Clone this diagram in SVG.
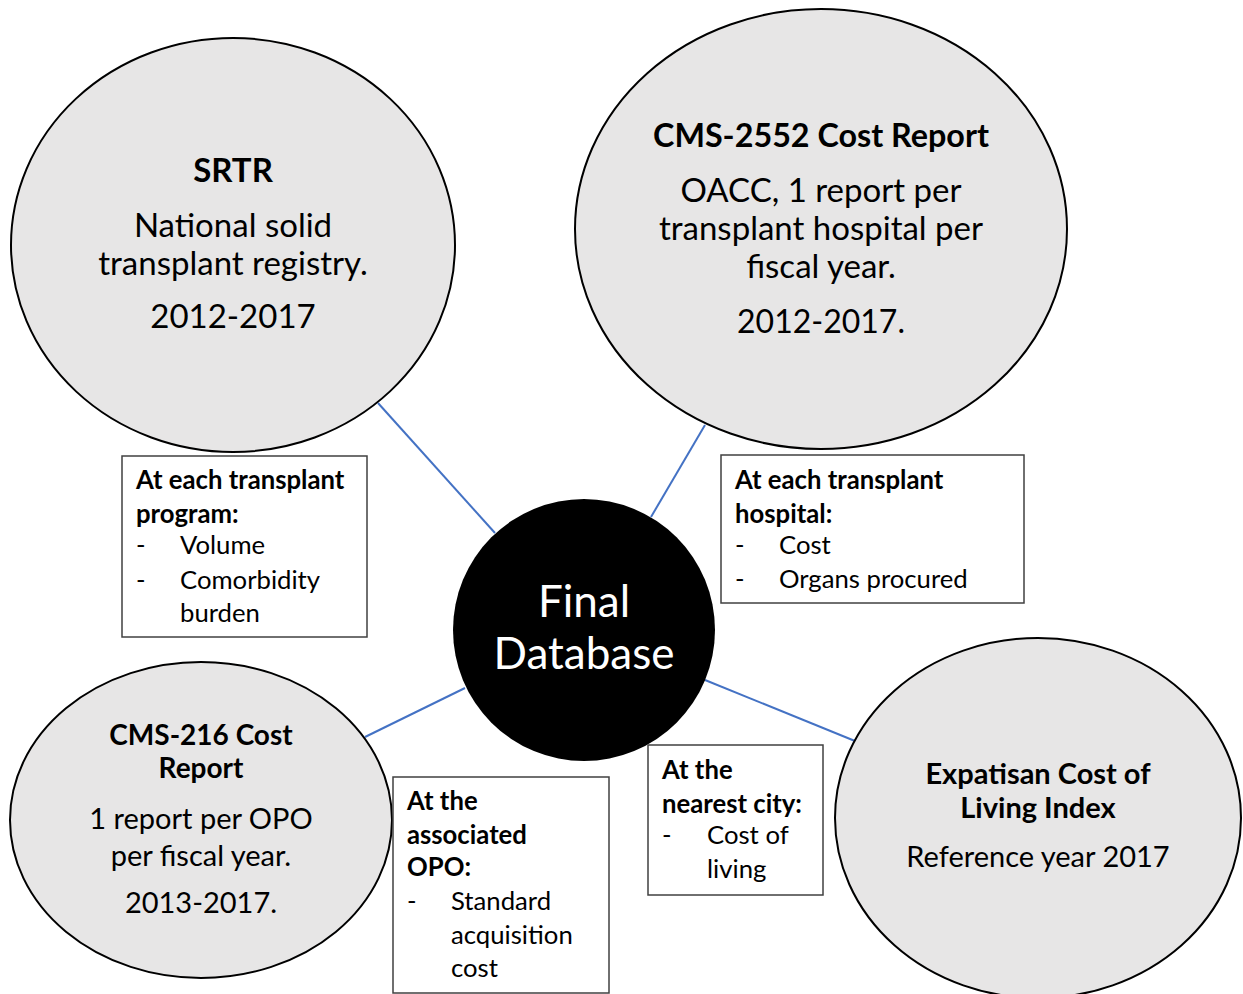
<svg xmlns="http://www.w3.org/2000/svg" width="1243" height="994" viewBox="0 0 1243 994">
<style>
.src{fill:#E7E6E6;stroke:#000;stroke-width:2}
.hub{fill:#000}
.box{fill:#fff;stroke:#404040;stroke-width:1.5}
.conn{stroke:#4472C4;stroke-width:2;fill:none}
text{font-family:Lato,"Liberation Sans",sans-serif;fill:#000}
.t1{font-size:33px;text-anchor:middle}
.t2{font-size:29px;text-anchor:middle}
.b{font-weight:bold}
.bx{font-size:25.7px}
.hubt{font-size:44px;fill:#fff;text-anchor:middle}
</style>
<rect width="1243" height="994" fill="#fff"/>
<g id="connectors">
<line class="conn" x1="378" y1="403" x2="495" y2="533"/>
<line class="conn" x1="705" y1="425" x2="651" y2="517"/>
<line class="conn" x1="365" y1="737" x2="465" y2="688"/>
<line class="conn" x1="705" y1="680" x2="855" y2="741"/>
</g>
<g id="srtr">
<ellipse class="src" cx="233" cy="245" rx="222" ry="207"/>
<text class="t1 b" x="233" y="182">SRTR</text>
<text class="t1" x="233" y="237">National solid</text>
<text class="t1" x="233" y="275">transplant registry.</text>
<text class="t1" x="233" y="328">2012-2017</text>
</g>
<g id="cms2552">
<ellipse class="src" cx="821" cy="229" rx="246" ry="220"/>
<text class="t1 b" x="821" y="147" style="font-size:32.3px">CMS-2552 Cost Report</text>
<text class="t1" x="821" y="202">OACC, 1 report per</text>
<text class="t1" x="821" y="240">transplant hospital per</text>
<text class="t1" x="821" y="278">fiscal year.</text>
<text class="t1" x="821" y="333" style="font-size:32px">2012-2017.</text>
</g>
<g id="cms216">
<ellipse class="src" cx="201" cy="820" rx="191" ry="158"/>
<text class="t2 b" x="201" y="745" style="font-size:28px">CMS-216 Cost</text>
<text class="t2 b" x="201" y="778" style="font-size:28px">Report</text>
<text class="t2" x="201" y="829">1 report per OPO</text>
<text class="t2" x="201" y="866">per fiscal year.</text>
<text class="t2" x="201" y="913">2013-2017.</text>
</g>
<g id="expatisan">
<ellipse class="src" cx="1038" cy="818" rx="203" ry="180"/>
<text class="t2 b" x="1038" y="784">Expatisan Cost of</text>
<text class="t2 b" x="1038" y="818">Living Index</text>
<text class="t2" x="1038" y="867">Reference year 2017</text>
</g>
<g id="final-database">
<circle class="hub" cx="584" cy="630" r="131"/>
<text class="hubt" x="584" y="617">Final</text>
<text class="hubt" x="584" y="669">Database</text>
</g>
<g id="box-program">
<rect class="box" x="122" y="456" width="245" height="181"/>
<text class="bx b" x="136" y="489">At each transplant</text>
<text class="bx b" x="136" y="523">program:</text>
<text class="bx" x="136" y="554">-</text>
<text class="bx" x="180" y="554">Volume</text>
<text class="bx" x="136" y="589">-</text>
<text class="bx" x="180" y="589">Comorbidity</text>
<text class="bx" x="180" y="622">burden</text>
</g>
<g id="box-hospital">
<rect class="box" x="721" y="455" width="303" height="148"/>
<text class="bx b" x="735" y="489">At each transplant</text>
<text class="bx b" x="735" y="523">hospital:</text>
<text class="bx" x="735" y="554">-</text>
<text class="bx" x="779" y="554">Cost</text>
<text class="bx" x="735" y="588">-</text>
<text class="bx" x="779" y="588">Organs procured</text>
</g>
<g id="box-opo">
<rect class="box" x="393" y="777" width="216" height="216"/>
<text class="bx b" x="407" y="810">At the</text>
<text class="bx b" x="407" y="844">associated</text>
<text class="bx b" x="407" y="876">OPO:</text>
<text class="bx" x="407" y="910">-</text>
<text class="bx" x="451" y="910">Standard</text>
<text class="bx" x="451" y="944">acquisition</text>
<text class="bx" x="451" y="977">cost</text>
</g>
<g id="box-city">
<rect class="box" x="648" y="745" width="175" height="150"/>
<text class="bx b" x="662" y="779">At the</text>
<text class="bx b" x="662" y="813">nearest city:</text>
<text class="bx" x="662" y="844">-</text>
<text class="bx" x="707" y="844">Cost of</text>
<text class="bx" x="707" y="878">living</text>
</g>
</svg>
